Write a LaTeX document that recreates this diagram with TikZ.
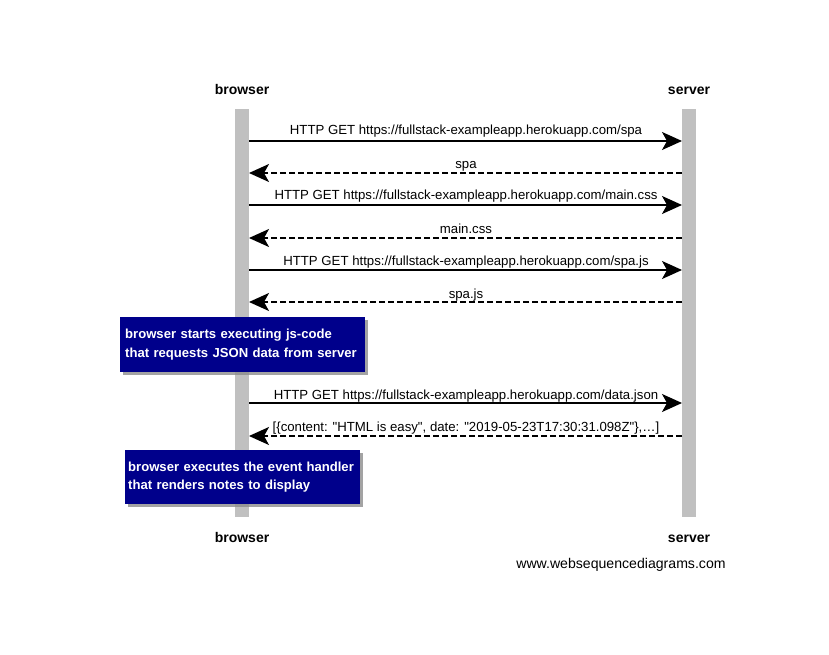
\documentclass[tikz,border=0pt]{standalone}
\usepackage{fontspec}
\setmainfont{Liberation Sans}[Ligatures=TeXOff]
\usetikzlibrary{arrows.meta,shadows}
\definecolor{lifegray}{RGB}{192,192,192}
\definecolor{notebg}{RGB}{0,0,139}
\definecolor{shadowgray}{RGB}{140,140,140}
\begin{document}
\begin{tikzpicture}[x=1pt,y=-1pt,
  actor/.style={font=\fontsize{14}{16}\selectfont\bfseries, inner sep=0pt, anchor=base},
  life/.style={fill=lifegray, draw=none},
  msg/.style={line width=1.6pt, -{Stealth[length=20pt,width=18pt,inset=5pt]}},
  reply/.style={msg, dash pattern=on 6pt off 3pt},
  lbl/.style={font=\fontsize{13.2}{15}\selectfont, inner sep=0pt, anchor=base},
  notebox/.style={fill=notebg, draw=none, text=white,
    font=\fontsize{13.1}{19}\selectfont\bfseries, align=left, anchor=north west,
    inner xsep=5pt, inner ysep=0pt, text width=#1,
    drop shadow={fill=shadowgray, opacity=0.8, shadow xshift=3pt, shadow yshift=-3pt}},
]
\useasboundingbox (0,0) rectangle (829,655);
\fill[white] (0,0) rectangle (829,655);

% actors
\node[actor] (bt) at (242,95) {browser};
\node[actor] (st) at (689,95) {server};
\node[actor] (bb) at (242,542) {browser};
\node[actor] (sb) at (689,542) {server};

% lifelines
\fill[life] (235,109) rectangle (249,517);
\fill[life] (682,109) rectangle (696,517);

% message endpoints
\foreach \n/\y in {1/141,2/173,3/205,4/238,5/270,6/302,7/403,8/436}{
  \coordinate (b\n) at (249,\y);
  \coordinate (s\n) at (682,\y);
}

\draw[msg] (b1) -- (s1);
\node[lbl] at (466,135) {HTTP GET https://fullstack-exampleapp.herokuapp.com/spa};
\draw[reply] (s2) -- (b2);
\node[lbl] at (466,168) {spa};
\draw[msg] (b3) -- (s3);
\node[lbl] at (466,200) {HTTP GET https://fullstack-exampleapp.herokuapp.com/main.css};
\draw[reply] (s4) -- (b4);
\node[lbl] at (466,233) {main.css};
\draw[msg] (b5) -- (s5);
\node[lbl] at (466,265) {HTTP GET https://fullstack-exampleapp.herokuapp.com/spa.js};
\draw[reply] (s6) -- (b6);
\node[lbl] at (466,298) {spa.js};
\draw[msg] (b7) -- (s7);
\node[lbl] at (466,399) {HTTP GET https://fullstack-exampleapp.herokuapp.com/data.json};
\draw[reply] (s8) -- (b8);
\node[lbl] at (466,431) {[\{content: "HTML is easy", date: "2019-05-23T17:30:31.098Z"\},…]};

% notes
\node[notebox=235pt, minimum height=55pt] (n1) at (120,317) {browser starts executing js-code\\that requests JSON data from server};
\node[notebox=229pt, inner xsep=3pt, minimum height=54pt, font=\fontsize{13.1}{18.5}\selectfont\bfseries] (n2) at (125,450) {\hyphenpenalty=10000 browser executes the event handler\\that renders notes to display};

\node[font=\fontsize{14.1}{16}\selectfont, inner sep=0pt, anchor=center] (wsd) at (621,565) {www.websequencediagrams.com};
\end{tikzpicture}
\end{document}
